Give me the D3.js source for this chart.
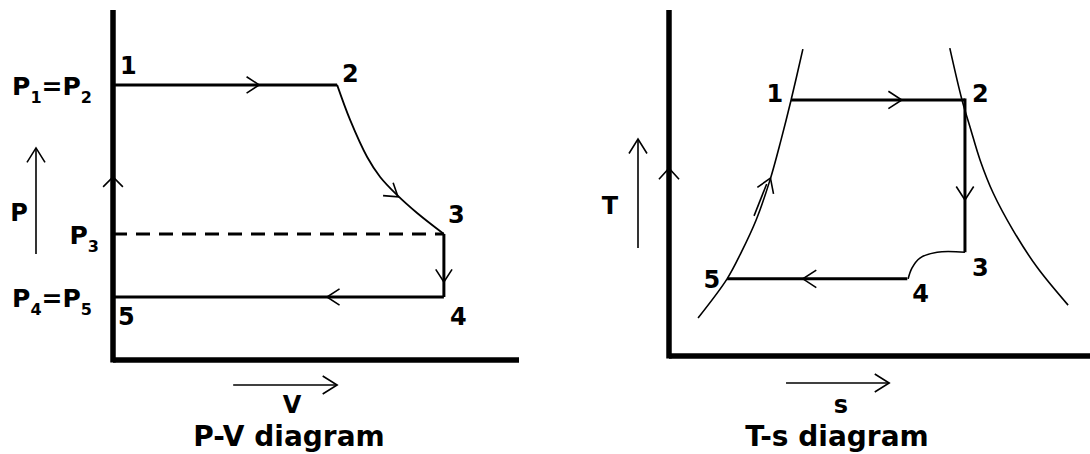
<!DOCTYPE html>
<html lang="en">
<head>
    <meta charset="UTF-8">
    <title>P-V and T-s diagram</title>
    <script src="https://cdn.jsdelivr.net/npm/d3@7"></script>
    <style>
        body { margin: 0; background: #fff; }
        text { font-family: "DejaVu Sans", sans-serif; font-weight: bold; fill: #000; }
    </style>
</head>
<body>
<div id="chart"></div>
<script>
    // P-V diagram, arbitrary units (0-10 on both axes)
    const pvStates = [
        {id: "1", v: 0, p: 7.86},
        {id: "2", v: 5.52, p: 7.86},
        {id: "3", v: 8.15, p: 3.6},
        {id: "4", v: 8.15, p: 1.8},
        {id: "5", v: 0, p: 1.8}
    ]
    const pvExpansion = [[5.52, 7.86], [5.84, 6.86], [6.26, 5.8], [6.58, 5.23], [7.0, 4.71], [7.49, 4.2], [8.15, 3.6]]
    const pvArrows = [
        {v: 3.6, p: 7.86, angle: 0},
        {v: 7.02, p: 4.66, angle: 38},
        {v: 8.15, p: 2.23, angle: 90},
        {v: 5.27, p: 1.8, angle: 180},
        {v: 0, p: 5.23, angle: -90}
    ]
    const pvPressureLabels = [
        {p: 7.86, parts: [["P", 0], ["1", 1], ["=", 0], ["P", 0], ["2", 1]]},
        {p: 3.6, parts: [["P", 0], ["3", 1]]},
        {p: 1.8, parts: [["P", 0], ["4", 1], ["=", 0], ["P", 0], ["5", 1]]}
    ]
    const pvGuideV = [2.96, 5.52]
    const pvGuideP = [3.03, 6.06]

    // T-s diagram, arbitrary units
    const tsStates = [
        {id: "1", s: 2.90, t: 7.4},
        {id: "2", s: 7.03, t: 7.4},
        {id: "3", s: 7.03, t: 3.0},
        {id: "4", s: 5.66, t: 2.23},
        {id: "5", s: 1.38, t: 2.23}
    ]
    const tsLiquidLine = [[3.18, 8.87], [2.90, 7.4], [2.66, 6.24], [2.40, 5.09], [2.07, 3.93], [1.71, 2.98], [1.38, 2.23], [0.69, 1.10]]
    const tsVapourLine = [[6.67, 8.90], [6.96, 7.4], [7.15, 6.62], [7.39, 5.66], [7.70, 4.71], [8.17, 3.64], [8.74, 2.57], [9.48, 1.47]]
    const tsThrottle = [[7.03, 3.0], [6.37, 3.0], [5.96, 2.83], [5.77, 2.54], [5.68, 2.23]]
    const tsRetrace = [[2.02, 4.05], [2.32, 4.97]]
    const tsArrows = [
        {s: 5.53, t: 7.4, angle: 0},
        {s: 7.03, t: 4.51, angle: 90},
        {s: 3.18, t: 2.23, angle: 180},
        {s: 2.41, t: 5.14, angle: -68},
        {s: 0, t: 5.43, angle: -90}
    ]
    const tsGuideS = [2.78, 5.23]
    const tsGuideT = [3.12, 6.27]

    const w = 1090
    const h = 454

    const svg = d3.select("#chart")
        .append("svg")
        .attr("width", w)
        .attr("height", h)

    const pvX = d3.scaleLinear().domain([0, 10]).range([113, 519])
    const pvY = d3.scaleLinear().domain([0, 10]).range([360, 10])
    const tsX = d3.scaleLinear().domain([0, 10]).range([669, 1090])
    const tsY = d3.scaleLinear().domain([0, 10]).range([356, 10])

    function chevron(x, y, angle, len, spread) {
        const a = angle * Math.PI / 180
        const s = spread * Math.PI / 180
        const p1 = [x - len * Math.cos(a - s), y - len * Math.sin(a - s)]
        const p2 = [x - len * Math.cos(a + s), y - len * Math.sin(a + s)]
        return `M${p1[0]},${p1[1]}L${x},${y}L${p2[0]},${p2[1]}`
    }

    function seg(x1, y1, x2, y2, width, dash) {
        const l = svg.append("line")
            .attr("x1", x1).attr("y1", y1)
            .attr("x2", x2).attr("y2", y2)
            .attr("stroke", "#000")
            .attr("stroke-width", width)
        if (dash) l.attr("stroke-dasharray", dash)
        return l
    }

    function label(x, y, txt, size, anchor) {
        svg.append("text")
            .attr("x", x).attr("y", y)
            .attr("text-anchor", anchor || "start")
            .style("font-size", size + "px")
            .text(txt)
    }

    function subLabel(x, y, parts, anchor) {
        const t = svg.append("text")
            .attr("x", x).attr("y", y)
            .attr("text-anchor", anchor)
            .style("font-size", "25px")
        let down = false
        parts.forEach(([s, sub]) => {
            const ts = t.append("tspan").text(s)
            if (sub && !down) { ts.attr("dy", 8).style("font-size", "16px"); down = true }
            else if (!sub && down) { ts.attr("dy", -8); down = false }
            else if (sub) ts.style("font-size", "16px")
        })
    }

    function guide(x1, y1, x2, y2, angle) {
        seg(x1, y1, x2, y2, 1.6)
        svg.append("path")
            .attr("d", chevron(x2, y2, angle, 17, 32))
            .attr("fill", "none").attr("stroke", "#000").attr("stroke-width", 1.6)
    }

    const curve = d3.line().curve(d3.curveCatmullRom.alpha(0.5))

    // ---------- P-V ----------
    const pv = Object.fromEntries(pvStates.map(d => [d.id, [pvX(d.v), pvY(d.p)]]))

    seg(pvX(0), pvY(10), pvX(0), pvY(0) + 2.5, 5.5)
    seg(pvX(0), pvY(0), pvX(10), pvY(0), 5.5)

    seg(pv["1"][0], pv["1"][1], pv["2"][0], pv["2"][1], 3)
    svg.append("path")
        .attr("d", curve(pvExpansion.map(d => [pvX(d[0]), pvY(d[1])])))
        .attr("fill", "none").attr("stroke", "#000").attr("stroke-width", 1.8)
    seg(pvX(0), pv["3"][1], pv["3"][0], pv["3"][1], 3, "14,9")
    seg(pv["3"][0], pv["3"][1], pv["4"][0], pv["4"][1], 3)
    seg(pv["4"][0], pv["4"][1], pv["5"][0], pv["5"][1], 3)

    svg.selectAll(".pv-arrow")
        .data(pvArrows)
        .enter()
        .append("path")
        .attr("class", "pv-arrow")
        .attr("d", d => chevron(pvX(d.v), pvY(d.p), d.angle, d.v === 0 ? 14 : 15, d.v === 0 ? 45 : 33))
        .attr("fill", "none").attr("stroke", "#000").attr("stroke-width", 1.6)

    const pvOff = {"1": [7, -11], "2": [5, -3], "3": [4, -11], "4": [6, 28], "5": [5, 28]}
    pvStates.forEach(d => label(pv[d.id][0] + pvOff[d.id][0], pv[d.id][1] + pvOff[d.id][1], d.id, 24))

    pvPressureLabels.forEach(d => {
        const x = d.parts.length > 2 ? pvX(0) - 21 : pvX(0) - 14
        subLabel(x, pvY(d.p) + 10, d.parts, "end")
    })

    guide(36, pvY(pvGuideP[0]), 36, pvY(pvGuideP[1]), -90)
    guide(pvX(pvGuideV[0]), 385, pvX(pvGuideV[1]), 385, 0)
    label(19, 221, "P", 24, "middle")
    label(292, 413, "V", 24, "middle")
    label(289, 446, "P-V diagram", 28, "middle")

    // ---------- T-s ----------
    const ts = Object.fromEntries(tsStates.map(d => [d.id, [tsX(d.s), tsY(d.t)]]))

    seg(tsX(0), tsY(10), tsX(0), tsY(0) + 2.5, 5.5)
    seg(tsX(0), tsY(0), tsX(10), tsY(0), 5.5)

    ;[tsLiquidLine, tsVapourLine, tsThrottle, tsRetrace].forEach(line => {
        svg.append("path")
            .attr("d", curve(line.map(d => [tsX(d[0]), tsY(d[1])])))
            .attr("fill", "none").attr("stroke", "#000").attr("stroke-width", 1.6)
    })

    seg(ts["1"][0], ts["1"][1], ts["2"][0], ts["2"][1], 3)
    seg(ts["2"][0], ts["2"][1] - 1.5, ts["3"][0], ts["3"][1], 3)
    seg(ts["4"][0], ts["4"][1], ts["5"][0], ts["5"][1], 3)

    svg.selectAll(".ts-arrow")
        .data(tsArrows)
        .enter()
        .append("path")
        .attr("class", "ts-arrow")
        .attr("d", d => chevron(tsX(d.s), tsY(d.t), d.angle, d.s === 0 ? 15 : 16, d.s === 0 ? 42 : 33))
        .attr("fill", "none").attr("stroke", "#000").attr("stroke-width", 1.6)

    const tsOff = {"1": [-8, 2, "end"], "2": [7, 2, "start"], "3": [7, 24, "start"], "4": [5, 23, "start"], "5": [-7, 9, "end"]}
    tsStates.forEach(d => label(ts[d.id][0] + tsOff[d.id][0], ts[d.id][1] + tsOff[d.id][1], d.id, 24, tsOff[d.id][2]))

    guide(638, tsY(tsGuideT[0]), 638, tsY(tsGuideT[1]), -90)
    guide(tsX(tsGuideS[0]), 383, tsX(tsGuideS[1]), 383, 0)
    label(610, 214, "T", 24, "middle")
    label(841, 413, "s", 24, "middle")
    label(837, 446, "T-s diagram", 28, "middle")
</script>
</body>
</html>
